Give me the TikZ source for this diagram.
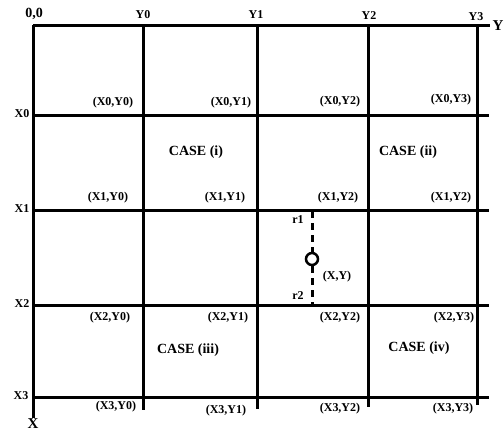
\documentclass[tikz,border=0pt]{standalone}
\usepackage{fontspec}
\setmainfont{Liberation Serif}
\usetikzlibrary{positioning}
\tikzset{
  grid line/.style={line width=3pt,draw=black},
  axis label/.style={font=\fontsize{12}{14}\selectfont\bfseries,inner sep=1pt},
  axis name/.style={font=\fontsize{15}{17}\selectfont\bfseries,inner sep=1pt},
  corner label/.style={font=\fontsize{12}{14}\selectfont\bfseries,inner sep=1pt},
  case label/.style={font=\fontsize{14}{16}\selectfont\bfseries,inner sep=1pt},
  point/.style={circle,draw=black,line width=2.5pt,minimum size=12pt,inner sep=0pt},
  radius line/.style={line width=3pt,dash pattern=on 7pt off 5pt}
}

\begin{document}
\begin{tikzpicture}[x=1pt,y=-1pt]
  \useasboundingbox (0,0) rectangle (504,432);
  % axes
  \coordinate (origin) at (33,25);
  \coordinate (yend) at (490,25);
  \coordinate (xend) at (33,418);
  \draw[grid line] (origin) -- (yend);
  \draw[grid line] (origin) -- (xend);
  % grid
  \foreach \r in {115,210,305,397}
    \draw[grid line] (33,\r) -- (489,\r);
  \foreach \c/\e in {143/410,257/409,368/407,477/405}
    \draw[grid line] (\c,25) -- (\c,\e);
  % axis labels
  \node[axis label,font=\fontsize{14}{16}\selectfont\bfseries] (zero) at (34,14) {0,0};
  \node[axis label] (y0) at (143,15) {Y0};
  \node[axis label] (y1) at (256,15) {Y1};
  \node[axis label] (y2) at (369,16) {Y2};
  \node[axis label] (y3) at (476,17) {Y3};
  \node[axis name] (yaxis) at (498,26) {Y};
  \node[axis label] (x0) at (22,114) {X0};
  \node[axis label] (x1) at (22,209) {X1};
  \node[axis label] (x2) at (22,304) {X2};
  \node[axis label] (x3) at (21,396) {X3};
  \node[axis name] (xaxis) at (33,424) {X};
  % corner labels
  \node[corner label] (p00) at (113,103) {(X0,Y0)};
  \node[corner label] (p01) at (231,103) {(X0,Y1)};
  \node[corner label] (p02) at (340,102) {(X0,Y2)};
  \node[corner label] (p03) at (451,100) {(X0,Y3)};
  \node[corner label] (p10) at (108,198) {(X1,Y0)};
  \node[corner label] (p11) at (225,198) {(X1,Y1)};
  \node[corner label] (p12) at (338,198) {(X1,Y2)};
  \node[corner label] (p13) at (451,198) {(X1,Y2)};
  \node[corner label] (p20) at (110,318) {(X2,Y0)};
  \node[corner label] (p21) at (228,318) {(X2,Y1)};
  \node[corner label] (p22) at (340,318) {(X2,Y2)};
  \node[corner label] (p23) at (454,318) {(X2,Y3)};
  \node[corner label] (p30) at (116,407) {(X3,Y0)};
  \node[corner label] (p31) at (226,411) {(X3,Y1)};
  \node[corner label] (p32) at (340,409) {(X3,Y2)};
  \node[corner label] (p33) at (453,409) {(X3,Y3)};
  % cases
  \node[case label] (case1) at (196,152) {CASE (i)};
  \node[case label] (case2) at (408,152) {CASE (ii)};
  \node[case label] (case3) at (188,350) {CASE (iii)};
  \node[case label] (case4) at (419,348) {CASE (iv)};
  % point and radii
  \node[point] (pt) at (312,259) {};
  \coordinate (rtop) at (312,211);
  \coordinate (rbot) at (312,304);
  \draw[radius line] (rtop) -- (pt);
  \draw[radius line] (pt) -- (rbot);
  \node[corner label] (r1) at (298,220) {r1};
  \node[corner label] (r2) at (298,296) {r2};
  \node[corner label] (xy) at (337,277) {(X,Y)};
\end{tikzpicture}
\end{document}
